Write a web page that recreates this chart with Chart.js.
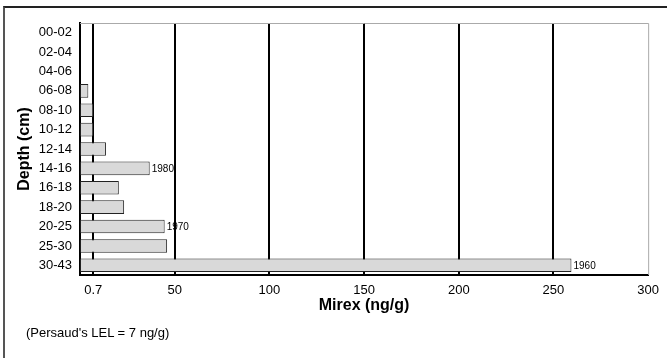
<!DOCTYPE html>
<html>
<head>
<meta charset="utf-8">
<script src="https://cdn.jsdelivr.net/npm/chart.js@4/dist/chart.umd.min.js"></script>
<style>
  body { margin: 0; background: #fff; }
  #wrap { position: relative; width: 667px; height: 358px; }
  #frame { position: absolute; left: 3px; top: 6px; right: 0; bottom: 0; border-top: 2px solid #222; border-left: 2px solid #555; }
  #note { position: absolute; left: 26px; top: 325px; font: 13px "Liberation Sans", Arial, sans-serif; color: #000; }
</style>
</head>
<body>
<div id="wrap">
  <div id="frame"></div>
  <canvas id="barChart"></canvas>
  <div id="note">(Persaud's LEL = 7 ng/g)</div>
</div>
<script>
var depths = ['00-02','02-04','04-06','06-08','08-10','10-12','12-14','14-16','16-18','18-20','20-25','25-30','30-43'];
var mirex = [null, null, null, 4.4, 7, 7, 13.7, 36.8, 20.5, 23.3, 44.7, 46, 259.5];
var years = ['', '', '', '', '', '', '', '1980', '', '', '1970', '', '1960'];
var tickValues = [7, 50, 100, 150, 200, 250, 300];
var tickLabels = ['0.7', '50', '100', '150', '200', '250', '300'];

var font = '"Liberation Sans", Arial, sans-serif';

// year labels next to the bars + gray top/right plot border
var extras = {
    id: 'extras',
    afterDatasetsDraw: function (chart) {
        var c = chart.ctx, a = chart.chartArea;
        c.save();
        c.strokeStyle = '#aaa';
        c.lineWidth = 1;
        c.beginPath();
        c.moveTo(a.left, a.top + 0.5);
        c.lineTo(a.right + 0.5, a.top + 0.5);
        c.lineTo(a.right + 0.5, a.bottom);
        c.stroke();
        var meta = chart.getDatasetMeta(0);
        c.fillStyle = '#000';
        c.font = '10px ' + font;
        c.textBaseline = 'middle';
        meta.data.forEach(function (bar, i) {
            if (years[i]) c.fillText(years[i], bar.x + 2, bar.y + 1);
        });
        c.restore();
    }
};

var ctx = document.getElementById('barChart').getContext('2d');
var myChart = new Chart(ctx, {
    type: 'bar',
    data: {
        labels: depths,
        datasets: [{
            data: mirex,
            backgroundColor: '#d9d9d9',
            borderColor: '#222',
            borderWidth: 1,
            borderSkipped: false,
            barPercentage: 0.7,
            categoryPercentage: 1
        }]
    },
    options: {
        indexAxis: 'y',
        responsive: true,
        maintainAspectRatio: false,
        animation: false,
        layout: { padding: { top: 23, right: 17, bottom: 43, left: 0 } },
        plugins: { legend: { display: false }, tooltip: { enabled: false } },
        scales: {
            x: {
                min: 0,
                max: 300,
                z: 1,
                afterBuildTicks: function (scale) {
                    scale.ticks = tickValues.map(function (v) { return { value: v }; });
                },
                afterFit: function (scale) { scale.height = 40; },
                ticks: {
                    color: '#000',
                    font: { family: font, size: 13 },
                    padding: 8,
                    maxRotation: 0,
                    callback: function (value) { return tickLabels[tickValues.indexOf(value)]; }
                },
                grid: {
                    drawTicks: false,
                    color: function (c) { return c.tick && c.tick.value === 300 ? 'rgba(0,0,0,0)' : '#000'; },
                    lineWidth: 2
                },
                border: { display: true, color: '#000', width: 2 },
                title: {
                    display: true,
                    text: 'Mirex (ng/g)',
                    color: '#000',
                    font: { family: font, size: 16, weight: 'bold' },
                    padding: { top: 0, bottom: 0 }
                }
            },
            y: {
                afterFit: function (scale) { scale.width = 80; },
                ticks: {
                    color: '#000',
                    font: { family: font, size: 13 },
                    padding: 8
                },
                grid: { display: false, drawTicks: false },
                border: { display: true, color: '#000', width: 2 },
                title: {
                    display: true,
                    text: 'Depth (cm)',
                    color: '#000',
                    font: { family: font, size: 16, weight: 'bold' },
                    padding: { top: 15, bottom: 0 }
                }
            }
        }
    },
    plugins: [extras]
});
</script>
</body>
</html>
